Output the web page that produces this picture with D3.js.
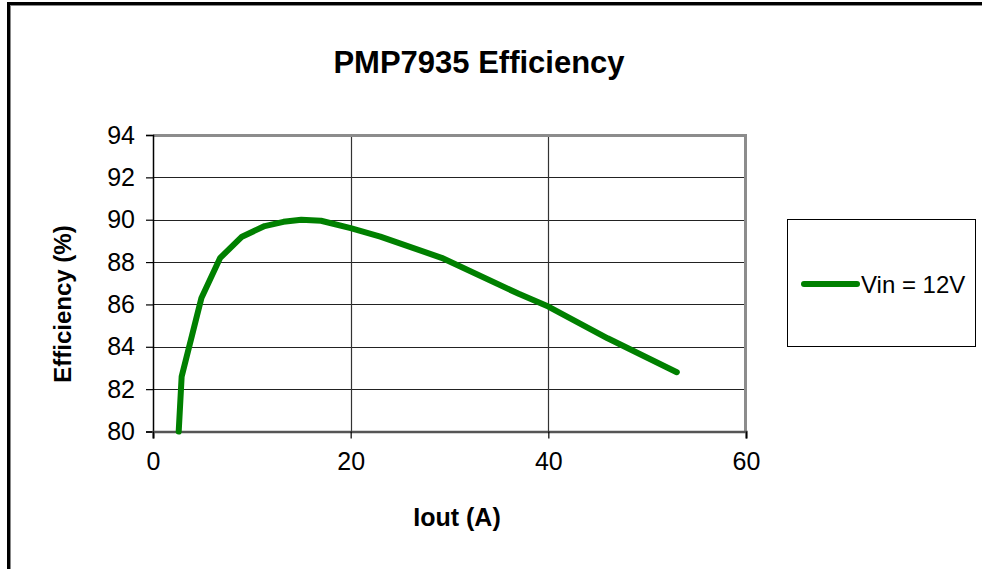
<!DOCTYPE html>
<html>
<head>
<meta charset="utf-8">
<script src="https://cdn.jsdelivr.net/npm/d3@7"></script>
<style>
  body { margin: 0; background: #fff; }
  text { font-family: "Liberation Sans", Arial, sans-serif; fill: #000; }
</style>
</head>
<body>
<div id="chart"></div>
<script>
// data
var iout = [2.6, 2.9, 4.9, 6.8, 9.0, 11.3, 13.2, 15.0, 17.0, 20.0, 23.0, 29.2, 37.0, 40.0, 46.0, 53.0];
var eff  = [80.0, 82.6, 86.3, 88.2, 89.2, 89.7, 89.9, 90.0, 89.95, 89.6, 89.2, 88.2, 86.5, 85.9, 84.4, 82.8];
var xTicks = [0, 20, 40, 60];
var yTicks = [80, 82, 84, 86, 88, 90, 92, 94];
var seriesName = "Vin = 12V";

var width = 982, height = 569;
var pLeft = 153, pRight = 746, pTop = 135, pBottom = 431.5;

var svg = d3.select("#chart").append("svg")
  .attr("width", width)
  .attr("height", height);

// outer frame (only left and top edges visible)
svg.append("line").attr("x1", 8.5).attr("x2", 8.5).attr("y1", 2).attr("y2", height)
  .attr("stroke", "#000").attr("stroke-width", 3);
svg.append("line").attr("x1", 7).attr("x2", width).attr("y1", 3.5).attr("y2", 3.5)
  .attr("stroke", "#000").attr("stroke-width", 3);
svg.append("line").attr("x1", 10.5).attr("x2", 10.5).attr("y1", 5).attr("y2", height)
  .attr("stroke", "#888").attr("stroke-width", 1);
svg.append("line").attr("x1", 10).attr("x2", width).attr("y1", 5.5).attr("y2", 5.5)
  .attr("stroke", "#888").attr("stroke-width", 1);

var x = d3.scaleLinear().domain([0, 60]).range([pLeft, pRight]);
var y = d3.scaleLinear().domain([80, 94]).range([pBottom, pTop]);

// grid
svg.append("g").selectAll("line")
  .data(yTicks.slice(1, -1))
  .enter().append("line")
  .attr("x1", pLeft).attr("x2", pRight)
  .attr("y1", function(d) { return Math.round(y(d)) + 0.5; })
  .attr("y2", function(d) { return Math.round(y(d)) + 0.5; })
  .attr("stroke", "#222").attr("stroke-width", 1.2);
svg.append("g").selectAll("line")
  .data(xTicks.slice(1, -1))
  .enter().append("line")
  .attr("y1", pTop).attr("y2", pBottom)
  .attr("x1", function(d) { return Math.round(x(d)) + 0.5; })
  .attr("x2", function(d) { return Math.round(x(d)) + 0.5; })
  .attr("stroke", "#333").attr("stroke-width", 1.2);

// plot area border (top / right)
svg.append("path")
  .attr("d", "M" + pLeft + "," + (pTop + 0.5) + "H" + (pRight - 0.5) + "V" + pBottom)
  .attr("fill", "none").attr("stroke", "#8c8c8c").attr("stroke-width", 3);

// axes
var yAxis = svg.append("g")
  .attr("transform", "translate(" + pLeft + ",0)")
  .call(d3.axisLeft(y).tickValues(yTicks).tickSize(7).tickPadding(11));
var xAxis = svg.append("g")
  .attr("transform", "translate(0," + pBottom + ")")
  .call(d3.axisBottom(x).tickValues(xTicks).tickSize(7).tickPadding(14));

[yAxis, xAxis].forEach(function(a) {
  a.select(".domain").attr("stroke", "#000").attr("stroke-width", 1.5);
  a.selectAll(".tick line").attr("stroke", "#000").attr("stroke-width", 1.2);
  a.selectAll(".tick text").style("font-size", "25px").attr("fill", "#000");
});
xAxis.select(".domain").attr("stroke", "#555").attr("stroke-width", 2.5);

// line (straight segments between points)
var pts = iout.map(function(d, i) { return [d, eff[i]]; });
var line = d3.line()
  .x(function(d) { return x(d[0]); })
  .y(function(d) { return y(d[1]); });
svg.append("path")
  .datum(pts)
  .attr("d", line)
  .attr("fill", "none")
  .attr("stroke", "#008000")
  .attr("stroke-width", 6)
  .attr("stroke-linejoin", "round")
  .attr("stroke-linecap", "round");

// titles
svg.append("text")
  .attr("x", 479).attr("y", 73)
  .attr("text-anchor", "middle")
  .style("font-size", "31px").style("font-weight", "bold")
  .text("PMP7935 Efficiency");
svg.append("text")
  .attr("x", 457).attr("y", 526)
  .attr("text-anchor", "middle")
  .style("font-size", "25px").style("font-weight", "bold")
  .text("Iout (A)");
svg.append("text")
  .attr("transform", "translate(71,304) rotate(-90)")
  .attr("text-anchor", "middle")
  .style("font-size", "24px").style("font-weight", "bold")
  .text("Efficiency (%)");

// legend
var lg = svg.append("g");
lg.append("rect")
  .attr("x", 787.5).attr("y", 219.5).attr("width", 188).attr("height", 127)
  .attr("fill", "#fff").attr("stroke", "#000").attr("stroke-width", 1);
lg.append("line")
  .attr("x1", 804).attr("x2", 857).attr("y1", 284).attr("y2", 284)
  .attr("stroke", "#008000").attr("stroke-width", 6).attr("stroke-linecap", "round");
lg.append("text")
  .attr("x", 861).attr("y", 293)
  .style("font-size", "24px")
  .text(seriesName);
</script>
</body>
</html>
